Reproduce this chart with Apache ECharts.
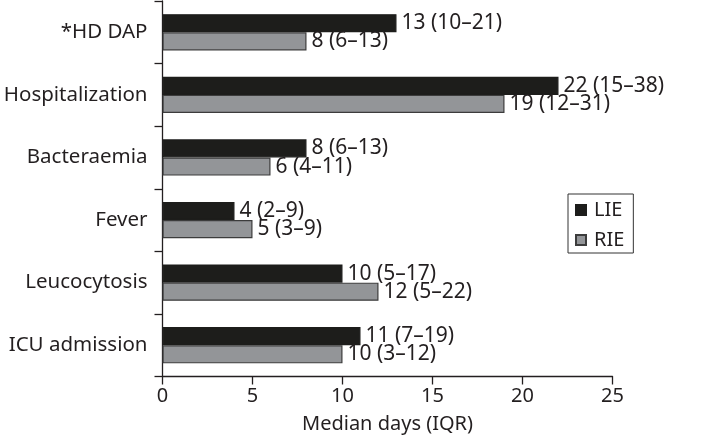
<!DOCTYPE html>
<html><head><meta charset="utf-8">
<script src="https://cdn.jsdelivr.net/npm/echarts@6/dist/echarts.min.js"></script>
<style>html,body{margin:0;padding:0;background:#fff}#c{width:703px;height:440px}</style>
</head><body><div id="c"></div>
<script>
const categories = ['*HD DAP', 'Hospitalization', 'Bacteraemia', 'Fever', 'Leucocytosis', 'ICU admission'];
const lieMedian = [13, 22, 8, 4, 10, 11];
const lieIQR = ['10–21', '15–38', '6–13', '2–9', '5–17', '7–19'];
const rieMedian = [8, 19, 6, 5, 12, 10];
const rieIQR = ['6–13', '12–31', '4–11', '3–9', '5–22', '3–12'];
const xTicks = [0, 5, 10, 15, 20, 25];

const FONT = '"Noto Sans", sans-serif';
const TXT = '#231f20';
const chart = echarts.init(document.getElementById('c'));
function mk(name, med, iqr, color, border) {
  return {
    name, type: 'bar', barGap: '0%', barCategoryGap: '42%',
    data: med.map((v, i) => ({ value: v, iqr: iqr[i] })),
    itemStyle: { color, borderColor: border, borderWidth: 1.2 },
    label: {
      show: true, position: 'right', distance: 5,
      fontFamily: FONT, fontSize: 21, color: TXT,
      formatter: p => p.value + ' (' + p.data.iqr + ')'
    },
    animation: false
  };
}
chart.setOption({
  animation: false,
  grid: { left: 162.5, right: 90.5, top: 1, bottom: 63.5 },
  legend: {
    orient: 'vertical', left: 568, top: 194,
    data: ['LIE', 'RIE'],
    icon: 'rect', itemWidth: 10, itemHeight: 10, itemGap: 10,
    borderColor: '#333', borderWidth: 1, padding: [6, 9, 3, 7],
    textStyle: { fontFamily: FONT, fontSize: 20, color: TXT, padding: [0, 0, 0, 3] }
  },
  xAxis: {
    type: 'value', min: 0, max: 25, interval: 5,
    name: 'Median days (IQR)', nameLocation: 'middle', nameGap: 38,
    nameTextStyle: { fontFamily: FONT, fontSize: 20, color: TXT },
    axisLine: { show: true, lineStyle: { color: '#231f20', width: 1.3 } },
    axisTick: { show: true, length: 8, lineStyle: { color: '#231f20', width: 1.3 } },
    axisLabel: { fontFamily: FONT, fontSize: 20, color: TXT, margin: 10,
      formatter: v => xTicks.includes(v) ? String(v) : '' },
    splitLine: { show: false }
  },
  yAxis: {
    type: 'category', data: categories, inverse: true,
    axisLine: { show: true, lineStyle: { color: '#231f20', width: 1.3 } },
    axisTick: { show: true, length: 8, inside: false, lineStyle: { color: '#231f20', width: 1.3 } },
    axisLabel: { fontFamily: FONT, fontSize: 20.5, color: TXT, margin: 15 }
  },
  series: [
    mk('LIE', lieMedian, lieIQR, '#1d1d1b', '#1d1d1b'),
    mk('RIE', rieMedian, rieIQR, '#939598', '#3c3c3c')
  ]
});
</script></body></html>
